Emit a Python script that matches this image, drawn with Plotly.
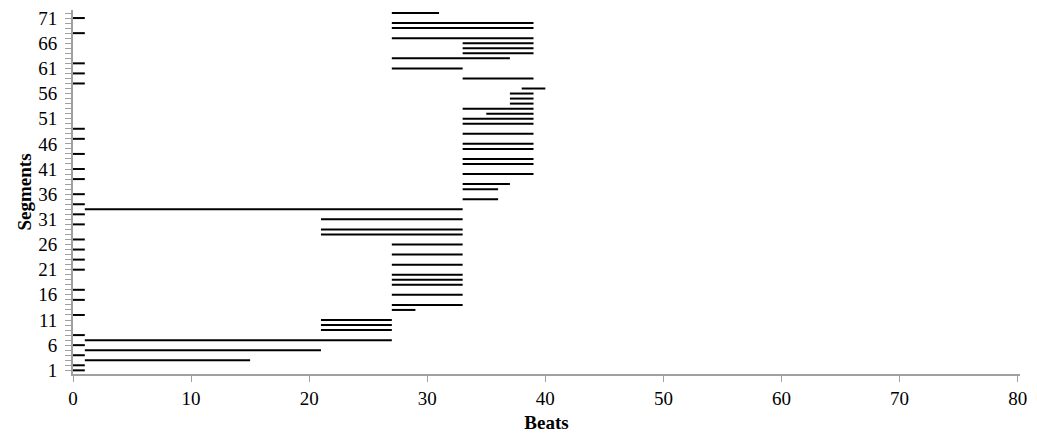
import plotly.graph_objects as go

segments = list(range(1, 73))
starts = [0, 0, 1, 0, 1, 0, 1, 0, 21, 21,
          21, 0, 27, 27, 0, 27, 0, 27, 27, 27,
          0, 27, 0, 27, 0, 27, 0, 21, 21, 0,
          21, 0, 1, 0, 33, 0, 33, 33, 0, 33,
          0, 33, 33, 0, 33, 33, 0, 33, 0, 33,
          33, 35, 33, 37, 37, 37, 38, 0, 33, 0,
          27, 0, 27, 33, 33, 33, 27, 0, 27, 27,
          0, 27]
ends = [1, 1, 15, 1, 21, 1, 27, 1, 27, 27,
        27, 1, 29, 33, 1, 33, 1, 33, 33, 33,
        1, 33, 1, 33, 1, 33, 1, 33, 33, 1,
        33, 1, 33, 1, 36, 1, 36, 37, 1, 39,
        1, 39, 39, 1, 39, 39, 1, 39, 1, 39,
        39, 39, 39, 39, 39, 39, 40, 1, 39, 1,
        33, 1, 37, 39, 39, 39, 39, 1, 39, 39,
        1, 31]
y_tick_labels = list(range(1, 72, 5))
x_tick_labels = list(range(0, 81, 10))

xs, ys = [], []
for s, a, b in zip(segments, starts, ends):
    xs += [a, b, None]
    ys += [s, s, None]

fig = go.Figure(go.Scatter(
    x=xs, y=ys, mode="lines",
    line=dict(color="black", width=2),
    hoverinfo="skip", showlegend=False,
))

font = "Liberation Serif, Times New Roman, serif"
axis_gray = "#a0a0a0"

fig.update_layout(
    width=1021, height=426,
    margin=dict(l=65, r=9, t=2, b=60),
    plot_bgcolor="white", paper_bgcolor="white",
    font=dict(family=font, size=19, color="black"),
    xaxis=dict(
        range=[0, 80.2], tickvals=x_tick_labels, automargin=False,
        showgrid=False, zeroline=False,
        showline=True, linecolor=axis_gray, linewidth=2,
        ticks="outside", ticklen=6, tickcolor=axis_gray, tickwidth=1,
        tickfont=dict(family=font, size=19), ticklabeloverflow="allow",
        title=dict(text="<b>Beats</b>", font=dict(family=font, size=19), standoff=8),
    ),
    yaxis=dict(
        range=[0.27, 72.6], tickvals=y_tick_labels, automargin=False,
        showgrid=False, zeroline=False,
        showline=True, linecolor=axis_gray, linewidth=2,
        ticks="outside", ticklen=6, tickcolor=axis_gray, tickwidth=1,
        minor=dict(tickmode="linear", tick0=1, dtick=1, ticks="outside",
                   ticklen=6, tickcolor=axis_gray, tickwidth=1, showgrid=False),
        tickfont=dict(family=font, size=19), ticklabeloverflow="allow",
        ticklabelstandoff=4,
        title=dict(text="<b>Segments</b>", font=dict(family=font, size=19), standoff=2),
    ),
)

fig.write_html("out.html")
